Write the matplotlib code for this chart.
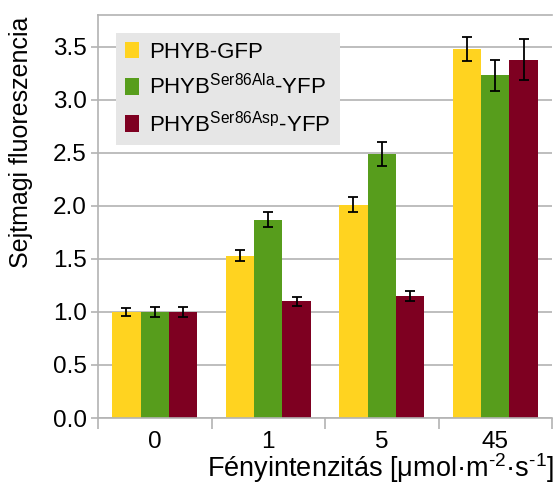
import matplotlib.pyplot as plt
import numpy as np

plt.rcParams['font.family'] = ['Liberation Sans', 'DejaVu Sans']
plt.rcParams['mathtext.fontset'] = 'custom'
plt.rcParams['mathtext.rm'] = 'Liberation Sans'
plt.rcParams['mathtext.it'] = 'Liberation Sans'

intensities = ['0', '1', '5', '45']
series = ['PHYB-GFP', r'PHYB$^{\mathrm{Ser86Ala}}$-YFP', r'PHYB$^{\mathrm{Ser86Asp}}$-YFP']
gfp = [1.00, 1.53, 2.01, 3.48]
gfp_err = [0.04, 0.05, 0.07, 0.11]
ala = [1.00, 1.87, 2.49, 3.23]
ala_err = [0.05, 0.07, 0.11, 0.15]
asp = [1.00, 1.10, 1.15, 3.38]
asp_err = [0.05, 0.04, 0.05, 0.19]
colors = ['#FFD320', '#579D1C', '#7E0021']

grid_c = '#b3b3b3'

fig = plt.figure(figsize=(5.57, 4.9), dpi=100)
ax = fig.add_axes([98/557, 1 - 418/490, 454/557, 403/490])

x = np.arange(len(intensities))
w = 0.25
for i, (vals, errs) in enumerate([(gfp, gfp_err), (ala, ala_err), (asp, asp_err)]):
    ax.bar(x + (i - 1) * w, vals, w, color=colors[i], label=series[i], zorder=2)
    ax.errorbar(x + (i - 1) * w, vals, yerr=errs, fmt='none', ecolor='black',
                elinewidth=1.3, capsize=3.5, capthick=1.3, zorder=3)

ax.set_xlim(-0.5, 3.5)
ax.set_ylim(0, 3.8)
ax.set_yticks(np.arange(0, 3.6, 0.5))
ax.set_yticklabels(['%.1f' % v for v in np.arange(0, 3.6, 0.5)])
ax.yaxis.grid(True, color=grid_c, lw=1.2, zorder=0)
ax.set_axisbelow(True)

# category boundaries carry the ticks, labels sit in the middle
ax.set_xticks(np.arange(-0.5, 4, 1))
ax.set_xticklabels([])
ax.set_xticks(x, minor=True)
ax.set_xticklabels(intensities, minor=True)
ax.tick_params(axis='x', which='major', length=8, color=grid_c, width=1.2)
ax.tick_params(axis='x', which='minor', length=0, pad=9, labelsize=17.5)
ax.tick_params(axis='y', length=5, color=grid_c, width=1.2, labelsize=17.5, pad=3)

for s in ['left', 'bottom', 'top']:
    ax.spines[s].set_color(grid_c)
    ax.spines[s].set_linewidth(1.2)
ax.spines['right'].set_visible(False)

ax.set_ylabel('Sejtmagi fluoreszencia', fontsize=18)
ax.yaxis.set_label_coords(-0.143, 0.685)
fig.text(554/557, 1 - 468/490, r'Fényintenzitás [μmol·m$^{\text{-2}}$·s$^{\text{-1}}$]',
         ha='right', va='center', fontsize=19.5)

leg = ax.legend(loc='upper left', bbox_to_anchor=(0.0396, 0.955), borderaxespad=0,
                fontsize=16, frameon=True, fancybox=False, facecolor='#e6e6e6',
                edgecolor='none', framealpha=1, handlelength=0.65, handleheight=0.75,
                handletextpad=0.45, labelspacing=0.5, borderpad=0.4)

fig.savefig('out.png', dpi=100)
